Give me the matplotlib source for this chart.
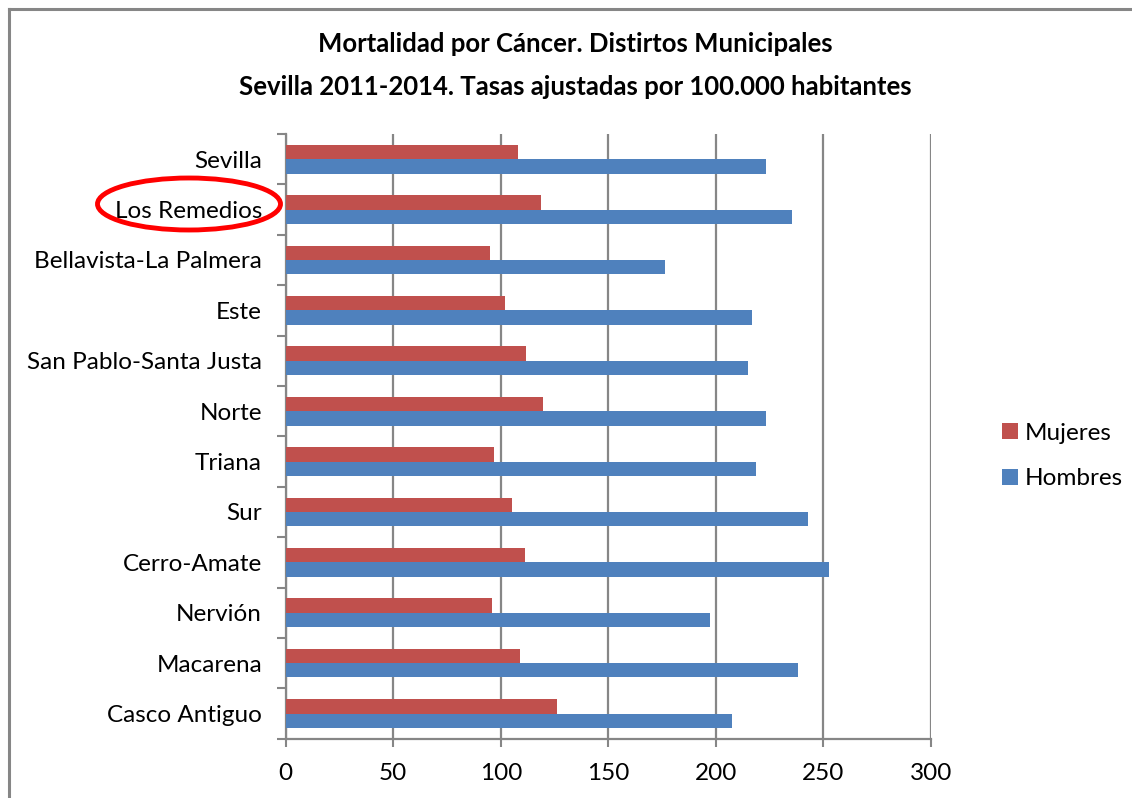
import matplotlib.pyplot as plt
import numpy as np
from matplotlib.patches import Ellipse

# Districts, bottom to top as drawn
districts = ["Casco Antiguo", "Macarena", "Nervión", "Cerro-Amate", "Sur", "Triana",
             "Norte", "San Pablo-Santa Justa", "Este", "Bellavista-La Palmera",
             "Los Remedios", "Sevilla"]
mujeres = [126.3, 109.1, 96.1, 111.2, 105.3, 96.7, 119.5, 111.7, 102.1, 95.2, 118.9, 107.9]
hombres = [207.4, 238.1, 197.1, 252.4, 242.9, 218.7, 223.5, 214.9, 216.8, 176.4, 235.2, 223.3]
xticks = [0, 50, 100, 150, 200, 250, 300]

RED = "#C0504D"
BLUE = "#4F81BD"
GRID = "#868686"

plt.rcParams["font.family"] = ["Lato", "DejaVu Sans"]

W, H = 1132, 798
fig = plt.figure(figsize=(W / 100, H / 100), dpi=100)

# outer chart frame (left and top edges visible)
fig.add_artist(plt.Line2D([8.5 / W, 8.5 / W], [0, 1 - 8.5 / H], color=GRID, lw=2.2))
fig.add_artist(plt.Line2D([8.5 / W, 1], [1 - 8.5 / H, 1 - 8.5 / H], color=GRID, lw=2.2))

ax = fig.add_axes([285.7 / W, 1 - 738.7 / H, (931 - 285.7) / W, (738.7 - 134) / H])

y = np.arange(len(districts))
h = 0.285
ax.barh(y + h / 2, mujeres, height=h, color=RED, label="Mujeres", zorder=3)
ax.barh(y - h / 2, hombres, height=h, color=BLUE, label="Hombres", zorder=3)

ax.set_xlim(0, 300)
ax.set_ylim(-0.5, len(districts) - 0.5)
ax.set_xticks(xticks)
ax.set_xticklabels([str(t) for t in xticks], fontsize=17.5)
ax.set_yticks(y)
ax.set_yticklabels(districts, fontsize=17.5)
ax.set_yticks(np.arange(len(districts) + 1) - 0.5, minor=True)
ax.tick_params(axis="y", which="major", length=0, pad=17)
ax.tick_params(axis="y", which="minor", length=6.5, width=1.5, color=GRID)
ax.tick_params(axis="x", length=5.5, width=1.5, color=GRID, pad=12)
ax.grid(axis="x", color=GRID, lw=1.6, zorder=0)
for side in ("top", "right"):
    ax.spines[side].set_visible(False)
for side in ("left", "bottom"):
    ax.spines[side].set_color(GRID)
    ax.spines[side].set_linewidth(1.6)

fig.text(575 / W, 1 - 44 / H, "Mortalidad por Cáncer. Distirtos Municipales",
         ha="center", va="center", fontsize=18.5, fontweight="bold")
fig.text(575 / W, 1 - 87 / H, "Sevilla 2011-2014. Tasas ajustadas por 100.000 habitantes",
         ha="center", va="center", fontsize=18.5, fontweight="bold")

handles, labels = ax.get_legend_handles_labels()
fig.legend(handles, labels, loc="center left", bbox_to_anchor=(980 / W, 1 - 456 / H),
           frameon=False, fontsize=17.5, handlelength=0.65, handleheight=0.65,
           handletextpad=0.3, labelspacing=1.0)

# red highlight ring around "Los Remedios"
fig.add_artist(Ellipse((189 / W, 1 - 204 / H), 183 / W, 52 / H,
                       transform=fig.transFigure, fill=False, ec="#FF0000", lw=3.5))

fig.savefig("out.png", dpi=100)
